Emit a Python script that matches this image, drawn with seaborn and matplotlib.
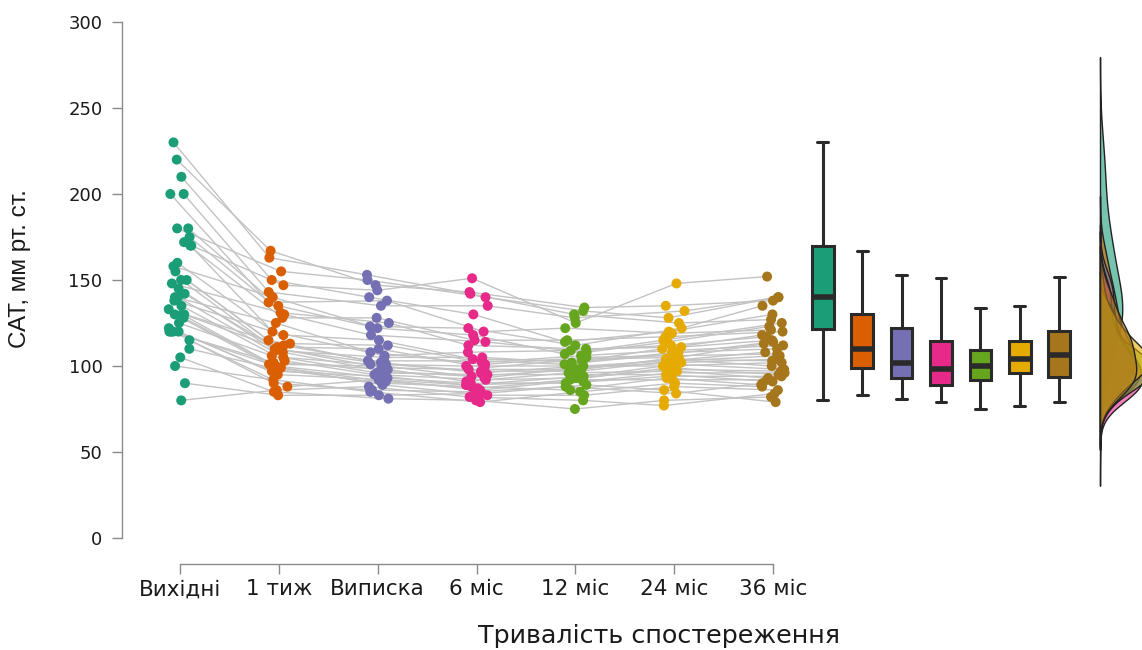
import numpy as np
import pandas as pd
import matplotlib
matplotlib.use("Agg")
import matplotlib.pyplot as plt
import seaborn as sns

# ---------------- data ----------------
categories = ["Вихідні", "1 тиж", "Виписка", "6 міс", "12 міс", "24 міс", "36 міс"]

baseline = [80, 90, 100, 105, 110, 115, 120, 120, 120, 120, 122, 125, 128, 130, 130, 130, 133, 135, 138, 140,
            140, 142, 145, 148, 150, 150, 155, 158, 160, 170, 170, 172, 175, 180, 180, 200, 200, 210, 220, 230]
week1 = [86, 83, 92, 85, 98, 88, 99, 90, 102, 95, 97, 106, 99, 101, 110, 100, 112, 103, 118, 105,
         125, 108, 109, 131, 110, 111, 115, 140, 113, 120, 147, 128, 130, 135, 155, 137, 143, 150, 167, 163]
discharge = [88, 83, 85, 81, 90, 92, 89, 86, 98, 92, 94, 96, 91, 100, 99, 93, 102, 95, 115, 101,
             108, 97, 105, 125, 101, 110, 103, 122, 112, 106, 144, 128, 118, 123, 150, 138, 135, 140, 147, 153]
month6 = [82, 84, 79, 80, 88, 86, 83, 85, 91, 89, 89, 95, 87, 93, 98, 90, 96, 92, 104, 100,
          101, 94, 105, 112, 97, 99, 103, 118, 102, 108, 151, 115, 114, 122, 140, 120, 135, 130, 143, 142]
month12 = [80, 89, 85, 75, 86, 92, 83, 88, 96, 91, 94, 95, 92, 99, 98, 90, 100, 93, 103, 100,
           105, 98, 102, 110, 97, 104, 101, 107, 106, 109, 125, 115, 108, 112, 132, 122, 128, 114, 134, 130]
month24 = [77, 86, 90, 80, 93, 92, 88, 84, 97, 96, 101, 95, 99, 102, 104, 94, 103, 98, 110, 100,
           106, 104, 108, 111, 103, 105, 107, 115, 109, 112, 148, 117, 114, 122, 128, 119, 132, 120, 135, 125]
month36 = [84, 79, 88, 82, 89, 92, 86, 90, 93, 96, 98, 91, 95, 104, 103, 94, 108, 97, 118, 102,
           107, 100, 110, 115, 106, 113, 114, 125, 112, 117, 152, 120, 123, 135, 140, 121, 140, 130, 138, 127]

series = [baseline, week1, discharge, month6, month12, month24, month36]
y_ticks = [0, 50, 100, 150, 200, 250, 300]

n_subj = len(baseline)
df = pd.concat([
    pd.DataFrame({"subject": np.arange(n_subj), "time": cat, "value": vals})
    for cat, vals in zip(categories, series)
], ignore_index=True)

# ---------------- style ----------------
sns.set_theme(style="ticks")
plt.rcParams["font.family"] = ["DejaVu Sans"]
pal = sns.color_palette("Dark2", 7)

W, H = 1142, 650
fig = plt.figure(figsize=(W / 100, H / 100), dpi=100)

ybot, ytop = 538, 22
def fy(px):
    return (H - px) / H
ax_h = (ybot - ytop) / H

# main axes (dots + lines)
x0, x1 = 130.6, 822.4
ax1 = fig.add_axes([x0 / W, fy(ybot), (x1 - x0) / W, ax_h])
ax1.patch.set_alpha(0)

np.random.seed(3)
sns.stripplot(data=df, x="time", y="value", hue="time", order=categories, hue_order=categories,
              palette=pal, jitter=0.12, size=7.2, linewidth=0, legend=False, ax=ax1, zorder=3)

colls = ax1.collections[:len(categories)]
offs = [c.get_offsets() for c in colls]
for i in range(n_subj):
    xs = [o[i, 0] for o in offs]
    ys = [o[i, 1] for o in offs]
    ax1.plot(xs, ys, color="#c3c3c3", lw=1.0, zorder=1)

ax1.set_xlim(-0.5, 6.5)
ax1.set_ylim(0, 300)
ax1.set_yticks(y_ticks)
sns.despine(ax=ax1, offset=dict(left=6.2, bottom=18.7), trim=True)
for sp in ("left", "bottom"):
    ax1.spines[sp].set_color("#8a8a8a")
    ax1.spines[sp].set_linewidth(1.0)
ax1.tick_params(axis="both", colors="#8a8a8a", length=7, width=1)
ax1.tick_params(axis="y", labelsize=13, labelcolor="#1a1a1a", pad=7)
ax1.tick_params(axis="x", labelsize=15.5, labelcolor="#1a1a1a", pad=4)

ax1.set_ylabel("САТ, мм рт. ст.", fontsize=17.5, family=["Liberation Sans", "DejaVu Sans"],
               color="#1a1a1a")
ax1.yaxis.set_label_coords((31 - x0) / (x1 - x0), (ybot - 269) / (ybot - ytop))
ax1.set_xlabel("Тривалість спостереження", fontsize=18.3, color="#1a1a1a")
ax1.xaxis.set_label_coords((659 - x0) / (x1 - x0), -(624 - ybot) / (ybot - ytop))

# box axes
b0, b1 = 803, 1079
ax2 = fig.add_axes([b0 / W, fy(ybot), (b1 - b0) / W, ax_h])
ax2.patch.set_alpha(0)
sns.boxplot(data=df, x="time", y="value", hue="time", order=categories, hue_order=categories,
            palette=pal, saturation=1, width=0.55, linewidth=2.2, linecolor="#2a2a2a",
            showfliers=False, whis=1.5, legend=False, ax=ax2,
            medianprops=dict(linewidth=4, color="#2a2a2a"))
ax2.set_xlim(-0.5, 6.5)
ax2.set_ylim(0, 300)
ax2.axis("off")

# density axes
px_per_dens = 1900.0
d0, d1 = 1090, 1142
ax3 = fig.add_axes([d0 / W, fy(ybot), (d1 - d0) / W, ax_h])
ax3.patch.set_alpha(0)
for cat, c in zip(categories, pal):
    sns.kdeplot(y=df.loc[df.time == cat, "value"], ax=ax3, fill=True, color=c, alpha=0.6,
                linewidth=1.0, edgecolor="#222222")
ax3.set_xlim(-(1100 - d0) / px_per_dens, (d1 - 1100) / px_per_dens)
ax3.set_ylim(0, 300)
ax3.axis("off")

fig.savefig("out.png", dpi=100)
